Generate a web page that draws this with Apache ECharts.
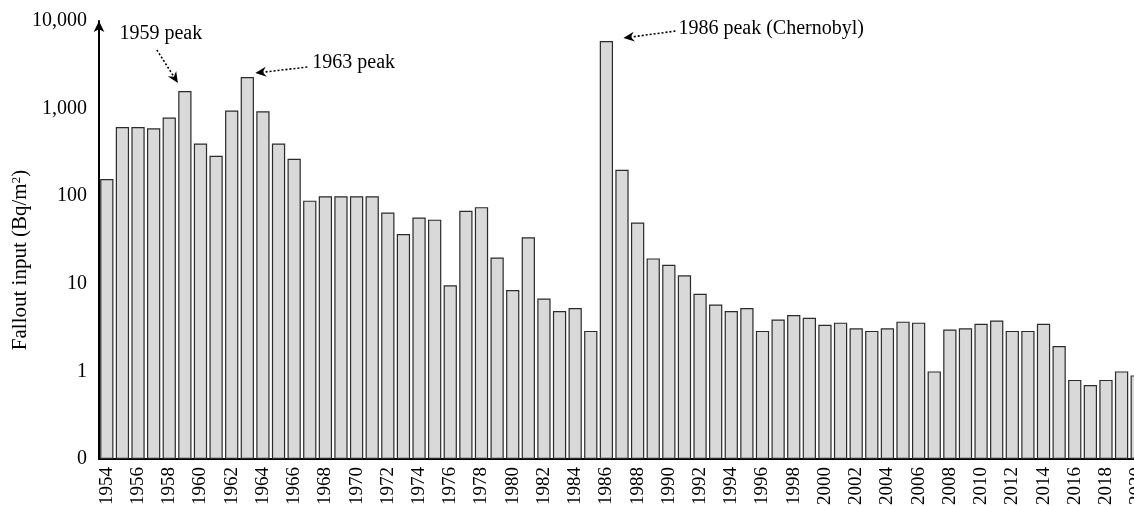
<!DOCTYPE html>
<html>
<head>
<meta charset="utf-8">
<script src="https://cdn.jsdelivr.net/npm/echarts@6/dist/echarts.min.js"></script>
<style>
  html, body { margin: 0; padding: 0; background: #fff; }
  #main { width: 1134px; height: 506px; }
</style>
</head>
<body>
<div id="main"></div>
<script>
// years on the x axis
const years = ['1954','1955','1956','1957','1958','1959','1960','1961','1962','1963',
  '1964','1965','1966','1967','1968','1969','1970','1971','1972','1973',
  '1974','1975','1976','1977','1978','1979','1980','1981','1982','1983',
  '1984','1985','1986','1987','1988','1989','1990','1991','1992','1993',
  '1994','1995','1996','1997','1998','1999','2000','2001','2002','2003',
  '2004','2005','2006','2007','2008','2009','2010','2011','2012','2013',
  '2014','2015','2016','2017','2018','2019','2020'];

// fallout input, Bq/m2
const fallout = [157, 615, 615, 595, 790, 1590, 400, 290, 950, 2290,
  930, 400, 268, 89, 100, 100, 100, 100, 65, 37,
  57, 54, 9.6, 68, 75, 20, 8.5, 34, 6.8, 4.9,
  5.3, 2.9, 5900, 200, 50, 19.5, 16.5, 12.5, 7.7, 5.8,
  4.9, 5.3, 2.9, 3.9, 4.4, 4.1, 3.4, 3.6, 3.1, 2.9,
  3.1, 3.7, 3.6, 1.0, 3.0, 3.1, 3.5, 3.8, 2.9, 2.9,
  3.5, 1.95, 0.8, 0.7, 0.8, 1.0, 0.9];

// peaks that get an arrow + label
const peakYears = ['1959', '1963', '1986'];
const peakLabels = ['1959 peak', '1963 peak', '1986 peak (Chernobyl)'];

// pixel offsets from the bar top: [tipX, tipY, tailX, tailY, textX, textY, align]
const peakOffsets = [
  [-7, -8, -28, -41, -24, -57, 'center'],
  [8, -4, 60, -10, 65, -14, 'left'],
  [17, -3, 69, -10, 72, -12, 'left']
];

const FONT = 'Liberation Serif, Times New Roman, serif';

const chart = echarts.init(document.getElementById('main'));

const option = {
  backgroundColor: '#fff',
  animation: false,
  grid: {
    left: 99,
    right: -11,
    top: 21,
    bottom: 47,
    outerBoundsMode: 'none'
  },
  xAxis: {
    type: 'category',
    data: years,
    axisLine: { lineStyle: { color: '#000', width: 2 } },
    axisTick: { show: false },
    axisLabel: {
      interval: 1,
      rotate: 90,
      margin: 8,
      color: '#000',
      fontFamily: FONT,
      fontSize: 19
    }
  },
  yAxis: {
    type: 'log',
    logBase: 10,
    min: 0.1,
    max: 10000,
    startValue: 0.1,   // bars grow from the bottom ("0") line
    name: 'Fallout input (Bq/m{sup|2})',
    nameLocation: 'middle',
    nameGap: 68,
    nameMoveOverlap: false,
    nameTextStyle: {
      color: '#000',
      fontFamily: FONT,
      fontSize: 21,
      padding: [0, 40, 0, 0],
      rich: {
        sup: { fontSize: 13, verticalAlign: 'top', padding: [0, 0, 8, 0], fontFamily: FONT, color: '#000' }
      }
    },
    axisLine: {
      show: true,
      symbol: ['none', 'arrow'],
      symbolSize: [8, 11],
      lineStyle: { color: '#000', width: 2 }
    },
    axisTick: { show: false },
    splitLine: { show: false },
    axisLabel: {
      margin: 12,
      color: '#000',
      fontFamily: FONT,
      fontSize: 20,
      formatter: function (v) {
        if (v < 1) return '0';
        return Math.round(v).toLocaleString('en-US');
      }
    }
  },
  series: [{
    type: 'bar',
    data: fallout,
    barCategoryGap: '15%',
    itemStyle: {
      color: '#d9d9d9',
      borderColor: '#2b2b2b',
      borderWidth: 1.2
    }
  }]
};

chart.setOption(option);

// arrows and labels for the peaks, anchored to the bar tops
function arrowHead(tip, tail) {
  const dx = tip[0] - tail[0], dy = tip[1] - tail[1];
  const len = Math.sqrt(dx * dx + dy * dy);
  const ux = dx / len, uy = dy / len;
  const nx = -uy, ny = ux;
  const L = 11, W = 5, notch = 3.5;
  return [
    tip,
    [tip[0] - ux * L + nx * W, tip[1] - uy * L + ny * W],
    [tip[0] - ux * (L - notch), tip[1] - uy * (L - notch)],
    [tip[0] - ux * L - nx * W, tip[1] - uy * L - ny * W]
  ];
}

const graphics = [];
peakYears.forEach((yr, i) => {
  const idx = years.indexOf(yr);
  const p = chart.convertToPixel({ seriesIndex: 0 }, [idx, fallout[idx]]);
  const o = peakOffsets[i];
  const tip = [p[0] + o[0], p[1] + o[1]];
  const tail = [p[0] + o[2], p[1] + o[3]];
  const head = arrowHead(tip, tail);
  graphics.push({
    type: 'line',
    shape: { x1: tail[0], y1: tail[1], x2: head[2][0], y2: head[2][1] },
    style: { stroke: '#000', lineWidth: 1.6, lineDash: [2, 2] }
  });
  graphics.push({
    type: 'polygon',
    shape: { points: head },
    style: { fill: '#000' }
  });
  graphics.push({
    type: 'text',
    x: p[0] + o[4],
    y: p[1] + o[5],
    style: {
      text: peakLabels[i],
      fill: '#000',
      font: '20px ' + FONT,
      align: o[6],
      verticalAlign: 'middle'
    }
  });
});

chart.setOption({ graphic: graphics });
</script>
</body>
</html>
